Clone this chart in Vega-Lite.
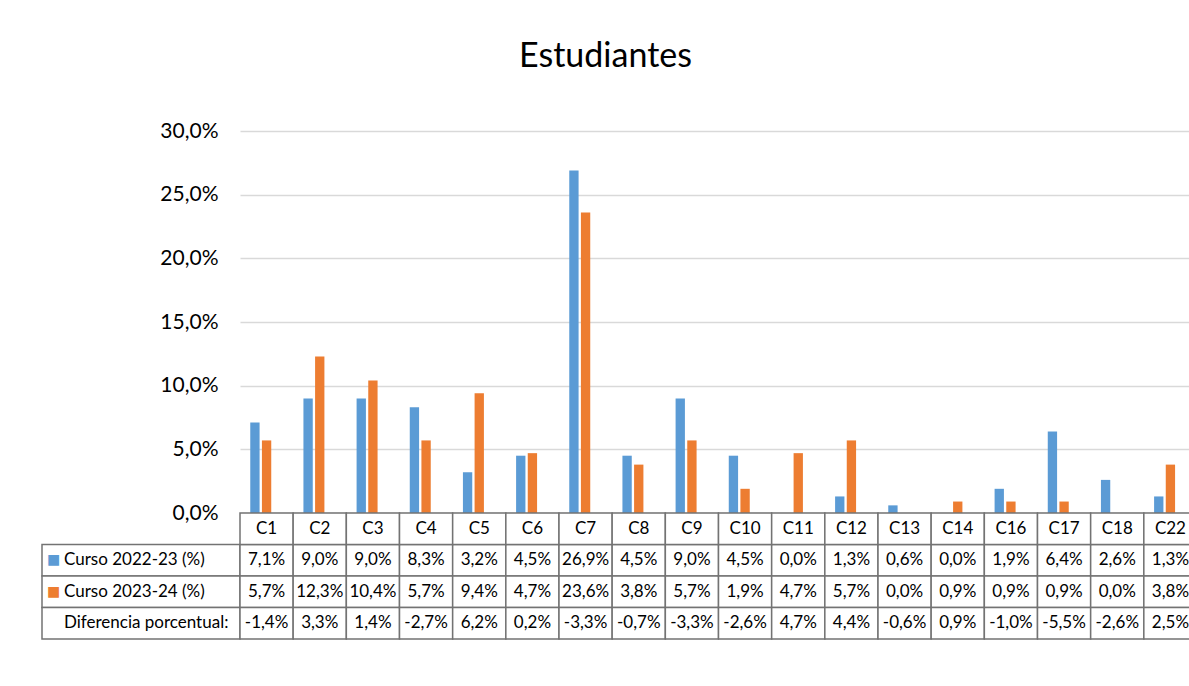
{
  "$schema": "https://vega.github.io/schema/vega-lite/v6.json",
  "padding": {"left": 41, "top": 40, "right": 0, "bottom": 0},
  "background": "white",
  "config": {
    "view": {"stroke": null},
    "font": "Lato",
    "locale": {"number": {"decimal": ",", "thousands": ".", "grouping": [3], "currency": ["", " €"], "minus": "-"}},
    "text": {"font": "Lato", "color": "#000000"}
  },
  "title": {"text": "Estudiantes", "font": "Lato", "fontSize": 34, "fontWeight": "normal", "color": "#000000", "anchor": "middle", "offset": 46, "dx": -14},
  "datasets": {
    "tabla": [
      {"cat": "C1", "a": 0.071, "b": 0.057, "d": -0.014},
      {"cat": "C2", "a": 0.090, "b": 0.123, "d": 0.033},
      {"cat": "C3", "a": 0.090, "b": 0.104, "d": 0.014},
      {"cat": "C4", "a": 0.083, "b": 0.057, "d": -0.027},
      {"cat": "C5", "a": 0.032, "b": 0.094, "d": 0.062},
      {"cat": "C6", "a": 0.045, "b": 0.047, "d": 0.002},
      {"cat": "C7", "a": 0.269, "b": 0.236, "d": -0.033},
      {"cat": "C8", "a": 0.045, "b": 0.038, "d": -0.007},
      {"cat": "C9", "a": 0.090, "b": 0.057, "d": -0.033},
      {"cat": "C10", "a": 0.045, "b": 0.019, "d": -0.026},
      {"cat": "C11", "a": 0.000, "b": 0.047, "d": 0.047},
      {"cat": "C12", "a": 0.013, "b": 0.057, "d": 0.044},
      {"cat": "C13", "a": 0.006, "b": 0.000, "d": -0.006},
      {"cat": "C14", "a": 0.000, "b": 0.009, "d": 0.009},
      {"cat": "C16", "a": 0.019, "b": 0.009, "d": -0.010},
      {"cat": "C17", "a": 0.064, "b": 0.009, "d": -0.055},
      {"cat": "C18", "a": 0.026, "b": 0.000, "d": -0.026},
      {"cat": "C22", "a": 0.013, "b": 0.038, "d": 0.025}
    ],
    "filas": [
      {"key": "a", "col": "l", "label": "Curso 2022-23 (%)"},
      {"key": "b", "col": "l", "label": "Curso 2023-24 (%)"},
      {"key": "d", "col": "l", "label": "Diferencia porcentual:"}
    ]
  },
  "columns": 2,
  "spacing": 0,
  "bounds": "flush",
  "align": "each",
  "resolve": {"scale": {"x": "independent", "y": "independent", "color": "independent", "xOffset": "independent"}},
  "concat": [
    {
      "width": 198,
      "height": 382,
      "data": {"name": "filas"},
      "mark": {"type": "text"},
      "encoding": {"text": {"value": ""}}
    },
    {
      "width": 957,
      "height": 382,
      "data": {"name": "tabla"},
      "transform": [{"fold": ["a", "b"], "as": ["key", "value"]}],
      "mark": {"type": "bar"},
      "encoding": {
        "x": {"field": "cat", "type": "nominal", "axis": null,
              "scale": {"domain": ["C1","C2","C3","C4","C5","C6","C7","C8","C9","C10","C11","C12","C13","C14","C16","C17","C18","C22"], "paddingInner": 0, "paddingOuter": 0}},
        "xOffset": {"field": "key", "type": "nominal", "scale": {"domain": ["a", "b", "d"], "paddingInner": 0.2, "paddingOuter": 0.88}},
        "y": {"field": "value", "type": "quantitative", "stack": null,
              "scale": {"domain": [0, 0.3], "nice": false},
              "axis": {"values": [0, 0.05, 0.1, 0.15, 0.2, 0.25, 0.3], "format": ".1%", "title": null,
                       "domain": false, "ticks": false, "grid": true, "gridColor": "#d9d9d9", "gridWidth": 1.5,
                       "labelFont": "Lato", "labelFontSize": 21, "labelColor": "#000000", "labelPadding": 22}},
        "color": {"field": "key", "type": "nominal", "scale": {"domain": ["a", "b"], "range": ["#5B9BD5", "#ED7D31"]}, "legend": null}
      }
    },
    {
      "width": 198,
      "height": 126,
      "data": {"name": "filas"},
      "encoding": {
        "y": {"field": "key", "type": "nominal", "axis": null, "scale": {"domain": ["h", "a", "b", "d"], "paddingInner": 0, "paddingOuter": 0}},
        "x": {"field": "col", "type": "nominal", "axis": null, "scale": {"paddingInner": 0, "paddingOuter": 0}}
      },
      "layer": [
        {"mark": {"type": "rect", "fill": "white", "stroke": "#737373", "strokeWidth": 1.5}},
        {
          "transform": [{"filter": "datum.key != 'd'"}],
          "mark": {"type": "text", "text": "■", "align": "left", "baseline": "middle", "dx": 5, "fontSize": 14, "font": "DejaVu Sans"},
          "encoding": {
            "x": {"field": "col", "type": "nominal", "bandPosition": 0},
            "color": {"field": "key", "type": "nominal", "scale": {"domain": ["a", "b"], "range": ["#5B9BD5", "#ED7D31"]}, "legend": null}
          }
        },
        {
          "mark": {"type": "text", "align": "left", "baseline": "middle", "dx": 22, "fontSize": 17},
          "encoding": {
            "x": {"field": "col", "type": "nominal", "bandPosition": 0},
            "text": {"field": "label"}
          }
        }
      ]
    },
    {
      "width": 957,
      "height": 126,
      "data": {"name": "tabla"},
      "encoding": {
        "x": {"field": "cat", "type": "nominal", "axis": null,
              "scale": {"domain": ["C1","C2","C3","C4","C5","C6","C7","C8","C9","C10","C11","C12","C13","C14","C16","C17","C18","C22"], "paddingInner": 0, "paddingOuter": 0}}
      },
      "layer": [
        {
          "transform": [{"fold": ["a", "b", "d"], "as": ["key", "value"]}],
          "encoding": {
            "y": {"field": "key", "type": "nominal", "axis": null, "scale": {"domain": ["h", "a", "b", "d"], "paddingInner": 0, "paddingOuter": 0}}
          },
          "layer": [
            {"mark": {"type": "rect", "fill": "white", "stroke": "#737373", "strokeWidth": 1.5}},
            {"mark": {"type": "text", "align": "center", "baseline": "middle", "fontSize": 17},
             "encoding": {"text": {"field": "value", "type": "quantitative", "format": ".1%"}}}
          ]
        },
        {
          "encoding": {"y": {"datum": "h", "type": "nominal"}},
          "layer": [
            {"mark": {"type": "rect", "fill": "white", "stroke": "#737373", "strokeWidth": 1.5}},
            {"mark": {"type": "text", "align": "center", "baseline": "middle", "fontSize": 17},
             "encoding": {"text": {"field": "cat"}}}
          ]
        }
      ]
    }
  ]
}
